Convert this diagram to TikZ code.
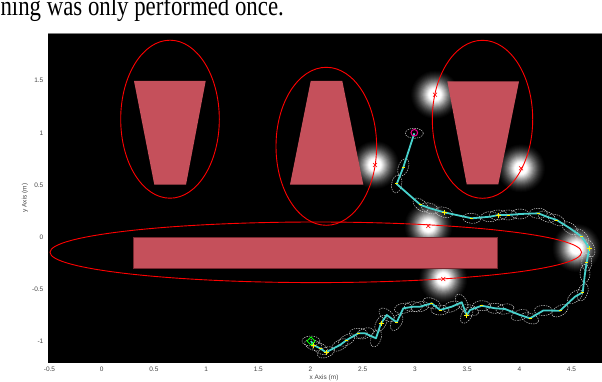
\documentclass[tikz,border=0pt]{standalone}
\usepackage{fontspec}
\setmainfont{Liberation Serif}
\newfontfamily\axisfont{Liberation Sans}
\definecolor{obstred}{RGB}{197,80,91}
\definecolor{obstedge}{RGB}{120,40,48}
\definecolor{trail}{RGB}{72,209,204}
\definecolor{ticktext}{RGB}{70,70,70}
\begin{document}
\begin{tikzpicture}[x=1pt,y=-1pt,
  obst/.style={fill=obstred},
  redell/.style={draw=red, line width=0.9pt},
  covell/.style={draw=white!85!black, line width=0.45pt, dash pattern=on 1.4pt off 1pt},
  trailpath/.style={draw=trail, line width=1.8pt, line join=round},
  ticklbl/.style={font=\axisfont\fontsize{6.5}{7}\selectfont, text=ticktext, inner sep=0pt},
  yellowmark/.style={draw=yellow, line width=1pt}
]
\useasboundingbox (0,0) rectangle (602,382);
% caption fragment
\node[anchor=base east, font=\fontsize{28}{28}\selectfont, inner sep=0pt, xscale=0.815] (caption) at (284,16) {ning was only performed once.};
% plot area
\fill[black] (48,33) rectangle (602,362.5);
\draw[gray, line width=1pt] (48,33.3) -- (602,33.3);
% glowing blobs
\foreach \bx/\by in {375/165, 435/94.7, 521/168.3, 428.5/226, 576.5/248, 443.3/279}{
  \foreach \r in {25,24,...,1}{
    \pgfmathsetmacro\glowpct{max(0,min(100,130*exp(-(\r/15)^2)-8))}
    \fill[white!\glowpct!black] (\bx,\by) circle (\r);
  }
}
% obstacles
\fill[obst] (134,81) -- (205.7,81) -- (186,184.7) -- (154.3,184.7) -- cycle;
\fill[obst] (310.7,81) -- (342.3,81) -- (363.3,184.7) -- (290,184.7) -- cycle;
\fill[obst] (447.3,81.3) -- (519,81.3) -- (498.3,184.3) -- (466.7,184.3) -- cycle;
\fill[obst, draw=obstedge, line width=0.7pt] (133,237.3) rectangle (497.7,268.3);
% bounding ellipses
\draw[redell] (170,119.2) ellipse [x radius=49.3, y radius=79];
\draw[redell] (326.3,146.3) ellipse [x radius=50.3, y radius=79];
\draw[redell] (482.5,119.3) ellipse [x radius=50.2, y radius=79];
\draw[redell] (315.8,252.3) ellipse [x radius=265.8, y radius=30.3];
% red crosses
\foreach \cx/\cy in {375/165, 435/94.7, 521/168.3, 428.3/226, 443.3/279}
  \draw[red, line width=0.6pt] (\cx-2,\cy-2) -- (\cx+2,\cy+2) (\cx-2,\cy+2) -- (\cx+2,\cy-2);
% covariance ellipses
\foreach \px/\py/\pa in {414.3/133.3/0, 403.3/167.3/70, 396.7/184/80, 420.7/205/-40, 430/208.3/-20, 444/212.3/-15, 471.7/218.3/-5, 490/216.7/0, 498.3/215/0, 508.3/215/0, 520/214/0, 538.3/213.3/0, 546.7/216.7/-20, 556.7/220/-25, 570/228.3/-35, 581.7/236.7/-50, 589.3/248.3/-70, 586.7/262/90, 585/273.3/90, 582.7/292.3/70, 575/296.7/40, 560/310.7/30, 543.3/310.5/0, 530/318.3/-20, 520/315/20, 505/309/10, 495/308.3/0, 481.7/305.7/0, 470/310/-20, 466.7/315/60, 461.7/302.3/-60, 451.7/306.7/20, 440/310/0, 431.7/303.3/-20, 420/306.7/10, 413.3/306.7/0, 403.3/308.3/10, 396.7/322.3/60, 386.7/315/-40, 381/323.3/60, 376/338.3/70, 365/333.3/20, 358.3/333.3/0, 346.7/340/30, 340/345/30, 326/352.3/20, 320/348.3/-30, 313.3/345/-20, 311/341/0}
  \draw[covell, rotate around={\pa:(\px,\py)}] (\px,\py) ellipse [x radius=9, y radius=5];
% trajectory
\draw[trailpath] plot coordinates {(414.3,133.3) (403.3,167.3) (396.7,184) (420.7,205) (430,208.3) (444,212.3) (471.7,218.3) (490,216.7) (498.3,215) (508.3,215) (520,214) (538.3,213.3) (546.7,216.7) (556.7,220) (570,228.3) (581.7,236.7) (589.3,248.3) (586.7,262) (585,273.3) (582.7,292.3) (575,296.7) (560,310.7) (543.3,310.5) (530,318.3) (520,315) (505,309) (495,308.3) (481.7,305.7) (470,310) (466.7,315) (461.7,302.3) (451.7,306.7) (440,310) (431.7,303.3) (420,306.7) (413.3,306.7) (403.3,308.3) (396.7,322.3) (386.7,315) (381,323.3) (376,338.3) (365,333.3) (358.3,333.3) (346.7,340) (340,345) (326,352.3) (320,348.3) (313.3,345) (311,341)};
% yellow markers: small ticks
\foreach \mx/\my in {403.3/167.3, 396.7/184, 420.7/205, 471.7/218.3, 508.3/215, 538.3/213.3, 556.7/220, 581.7/236.7, 586.7/262, 582.7/292.3, 560/310.7, 530/318.3, 481.7/305.7, 440/310, 431.7/303.3, 396.7/322.3, 358.3/333.3, 346.7/340, 320/348.3}
  \draw[yellowmark] (\mx-1.5,\my) -- (\mx+1.5,\my);
% yellow markers: plus signs
\foreach \mx/\my in {444/212.3, 498.3/215, 589.3/248.3, 466.7/315, 381/323.3, 326/352.3, 313.3/345}
  \draw[yellowmark] (\mx-2.5,\my) -- (\mx+2.5,\my) (\mx,\my-2.5) -- (\mx,\my+2.5);
% start and goal
\draw[magenta, line width=1pt] (414.3,132.8) circle (3.3);
\draw[green, line width=0.8pt] (311,337) -- (315,341) -- (311,345) -- (307,341) -- cycle;
% x tick labels
\node[ticklbl] (xt0) at (49.5,369) {-0.5};
\node[ticklbl] (xt1) at (101.7,369) {0};
\node[ticklbl] (xt2) at (153.9,369) {0.5};
\node[ticklbl] (xt3) at (206.1,369) {1};
\node[ticklbl] (xt4) at (258.3,369) {1.5};
\node[ticklbl] (xt5) at (310.5,369) {2};
\node[ticklbl] (xt6) at (362.7,369) {2.5};
\node[ticklbl] (xt7) at (414.9,369) {3};
\node[ticklbl] (xt8) at (467.1,369) {3.5};
\node[ticklbl] (xt9) at (519.3,369) {4};
\node[ticklbl] (xt10) at (571.5,369) {4.5};
\node[ticklbl] (xlabel) at (324,378) {x Axis (m)};
% y tick labels
\node[ticklbl, anchor=east] (yt0) at (43.5,80.7) {1.5};
\node[ticklbl, anchor=east] (yt1) at (43.5,133.3) {1};
\node[ticklbl, anchor=east] (yt2) at (43.5,185) {0.5};
\node[ticklbl, anchor=east] (yt3) at (43.5,237.3) {0};
\node[ticklbl, anchor=east] (yt4) at (43.5,289.3) {-0.5};
\node[ticklbl, anchor=east] (yt5) at (43.5,341) {-1};
\node[ticklbl, rotate=90] (ylabel) at (25,198) {y Axis (m)};
\end{tikzpicture}
\end{document}
